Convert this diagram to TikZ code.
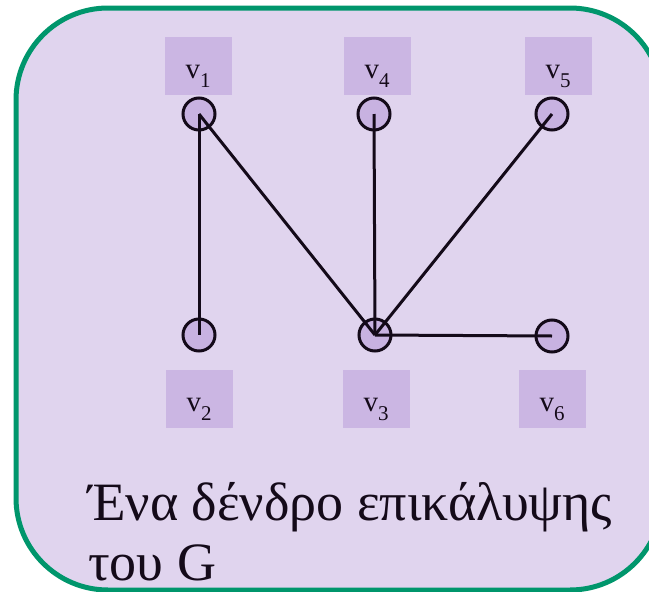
\documentclass[tikz,border=0pt]{standalone}
\usepackage{fontspec}
\setmainfont{Liberation Serif}
\definecolor{bgpurple}{RGB}{224,212,238}
\definecolor{boxpurple}{RGB}{203,182,227}
\definecolor{circpurple}{RGB}{200,178,225}
\definecolor{framegreen}{RGB}{0,150,108}
\definecolor{inkc}{RGB}{20,10,25}
\tikzset{
  vert/.style={circle, draw=inkc, line width=3pt, fill=circpurple, minimum size=32pt, inner sep=0pt},
  lbox/.style={rectangle, fill=boxpurple, minimum width=67pt, minimum height=58pt, inner sep=0pt,
               text height=24pt, text depth=0pt,
               font=\fontsize{29}{30}\selectfont, text=inkc},
  edge/.style={draw=inkc, line width=3pt},
}
\newcommand{\vlab}[1]{v\raisebox{-9pt}{\fontsize{21}{21}\selectfont #1}}
\begin{document}
\begin{tikzpicture}[x=1pt,y=-1pt]
\useasboundingbox (0,0) rectangle (649,592);
\clip (0,0) rectangle (649,592);
\path[fill=bgpurple, draw=framegreen, line width=5pt, rounded corners=92pt]
  (16,8) rectangle (662,590);
% label boxes
\node[lbox] (b1) at (198,66) {\vlab{1}};
\node[lbox] (b4) at (377,66) {\vlab{4}};
\node[lbox] (b5) at (558,66) {\vlab{5}};
\node[lbox] (b2) at (199,399) {\vlab{2}};
\node[lbox] (b3) at (376,399) {\vlab{3}};
\node[lbox] (b6) at (552,399) {\vlab{6}};
% vertices
\node[vert] (v1) at (199,114) {};
\node[vert] (v4) at (374,114) {};
\node[vert] (v5) at (552,114) {};
\node[vert] (v2) at (199,335) {};
\node[vert] (v3) at (375,335) {};
\node[vert] (v6) at (552,336) {};
% edges
\draw[edge] (v1.center) -- (v2.center);
\draw[edge] (v1.center) -- (v3.center);
\draw[edge] (v4.center) -- (v3.center);
\draw[edge] (v5.center) -- (v3.center);
\draw[edge] (v3.center) -- (v6.center);
% caption
\node[anchor=base west, align=left, inner sep=0pt, text=inkc,
      font=\fontsize{54}{60}\selectfont] (cap) at (88,580)
  {Ένα δένδρο επικάλυψης\\του G};
\end{tikzpicture}
\end{document}
